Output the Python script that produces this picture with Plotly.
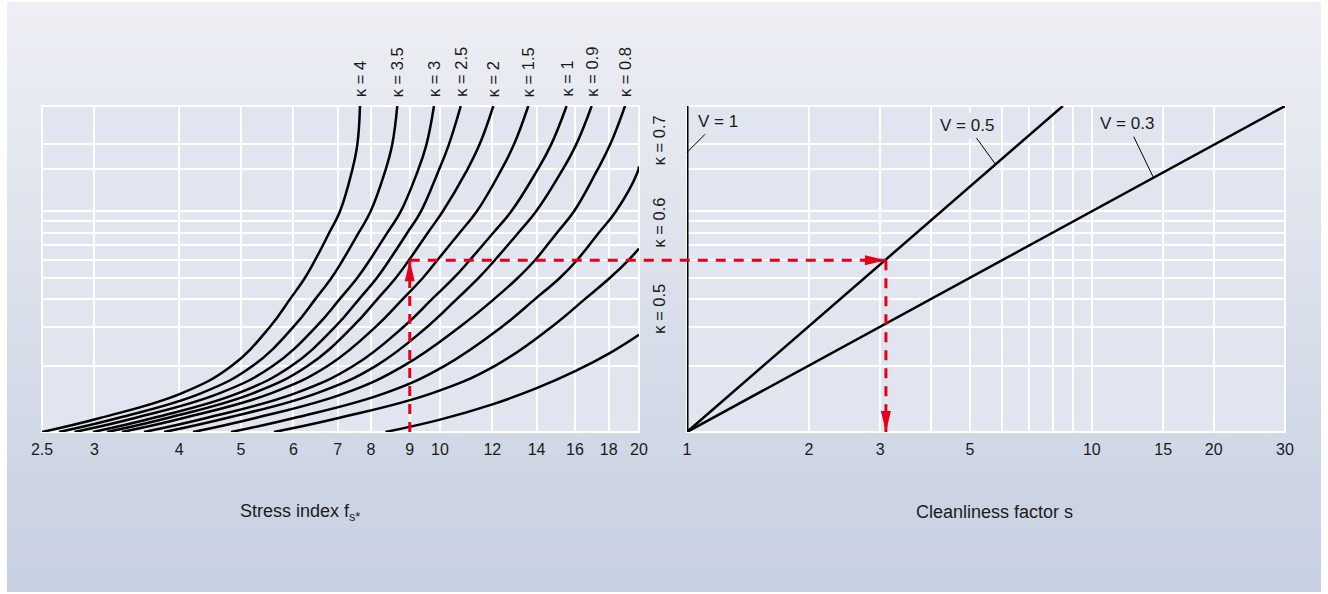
import numpy as np
import plotly.graph_objects as go

# ---------------- data ----------------
y_levels = [1, 1.157, 1.5, 2, 3, 4, 5, 6, 8, 10, 15, 20, 30]

k4_fs = [2.5, 3.060, 4.071, 4.847, 5.532, 5.931, 6.249, 6.470, 6.800, 7.059, 7.350, 7.497, 7.568]
k35_fs = [2.653, 3.257, 4.356, 5.216, 6.005, 6.477, 6.855, 7.125, 7.534, 7.855, 8.250, 8.465, 8.617]
k3_fs = [2.80, 3.454, 4.645, 5.597, 6.497, 7.051, 7.499, 7.825, 8.325, 8.723, 9.236, 9.536, 9.792]
k25_fs = [2.986, 3.679, 4.953, 5.972, 6.944, 7.544, 8.029, 8.380, 8.926, 9.359, 9.926, 10.31, 10.75]
k2_fs = [3.135, 3.870, 5.222, 6.319, 7.377, 8.040, 8.578, 8.972, 9.586, 10.10, 10.94, 11.47, 12.04]
k15_fs = [3.303, 4.093, 5.562, 6.778, 7.998, 8.781, 9.424, 9.905, 10.71, 11.37, 12.32, 12.93, 13.60]
k1_fs = [3.566, 4.430, 6.049, 7.411, 8.811, 9.724, 10.50, 11.09, 12.04, 12.82, 13.97, 14.72, 15.54]
k09_fs = [3.824, 4.757, 6.517, 8.012, 9.570, 10.60, 11.45, 12.10, 13.14, 13.98, 15.24, 16.06, 16.96]
k08_fs = [4.230, 5.257, 7.185, 8.821, 10.72, 12.07, 13.12, 13.92, 15.03, 15.95, 17.22, 18.08, 19.05]

k07_fs = [4.829, 6.013, 8.256, 10.18, 12.41, 13.92, 15.19, 16.11, 17.39, 18.46, 19.89, 20.0]
k07_y = [1, 1.157, 1.5, 2, 3, 4, 5, 6, 8, 10, 15, 16.0]
k06_fs = [5.608, 7.024, 9.737, 12.13, 14.76, 16.56, 18.08, 19.27, 20.0]
k06_y = [1, 1.157, 1.5, 2, 3, 4, 5, 6, 6.78]
k05_fs = [8.270, 10.0, 11.97, 13.97, 16.04, 18.03, 20.0]
k05_y = [1, 1.138, 1.331, 1.575, 1.891, 2.272, 2.760]

top_kappa_labels = ["κ = 4", "κ = 3.5", "κ = 3", "κ = 2.5", "κ = 2", "κ = 1.5", "κ = 1", "κ = 0.9", "κ = 0.8"]
side_kappa_labels = ["κ = 0.7", "κ = 0.6", "κ = 0.5"]

# contamination factor lines (cleanliness factor s vs. intermediate value)
v_labels = ["V = 1", "V = 0.5", "V = 0.3"]
v1_s, v1_y = [1, 1], [1, 30]
v05_s, v05_y = [1, 8.48], [1, 30]
v03_s, v03_y = [1, 30], [1, 30]
v_label_points_s = [1.0, 5.8, 14.2]
v_label_points_y = [18.5, 16.2, 14.2]

# worked example
ex_fs, ex_y, ex_s = 9, 6, 3.1

left_tickvals = [2.5, 3, 4.03, 5, 6, 7, 7.86, 9, 10, 12, 14, 16, 18, 20]
left_ticktext = ["2.5", "3", "4", "5", "6", "7", "8", "9", "10", "12", "14", "16", "18", "20"]
right_tickvals = [1, 2, 3, 4, 5, 6, 7, 8, 9, 10, 15, 20, 30]
right_ticktext = ["1", "2", "3", " ", "5", " ", " ", " ", " ", "10", "15", "20", "30"]
y_gridvals = [2, 3, 4, 5, 6, 7, 8, 9, 10, 15.6, 20.2]

# ---------------- layout geometry / style ----------------
W, H = 1328, 594
ML, MR, MT, MB = 42, 43, 106, 162
PW, PH = W - ML - MR, H - MT - MB
LEFT_DOM = [0, (639 - ML) / PW]
RIGHT_DOM = [(687 - ML) / PW, 1]
XL_RANGE = [np.log10(2.5), np.log10(20)]
XR_RANGE = [0, np.log10(30)]
Y_RANGE = [0, np.log10(30)]
PLOT_BG = "#e1e5ef"
RED = "#e2001a"
TXT = "#1b1b1b"
FONT = "Liberation Sans, Arial, sans-serif"


def pxx(px):
    return (px - ML) / PW


def pxy(py):
    return (H - MB - py) / PH


def paper_of(v, rng, dom):
    return dom[0] + (np.log10(v) - rng[0]) / (rng[1] - rng[0]) * (dom[1] - dom[0])


fig = go.Figure()

curves = [
    (k4_fs, y_levels), (k35_fs, y_levels), (k3_fs, y_levels), (k25_fs, y_levels),
    (k2_fs, y_levels), (k15_fs, y_levels), (k1_fs, y_levels), (k09_fs, y_levels),
    (k08_fs, y_levels), (k07_fs, k07_y), (k06_fs, k06_y), (k05_fs, k05_y),
]
for xs, ys in curves:
    fig.add_trace(go.Scatter(x=xs, y=ys, mode="lines", xaxis="x", yaxis="y",
                             line=dict(color="black", width=2.5, shape="spline", smoothing=1.2),
                             hoverinfo="skip", showlegend=False))

for xs, ys, w in [(v1_s, v1_y, 3), (v05_s, v05_y, 2.5), (v03_s, v03_y, 2.5)]:
    fig.add_trace(go.Scatter(x=xs, y=ys, mode="lines", xaxis="x2", yaxis="y",
                             line=dict(color="black", width=w),
                             hoverinfo="skip", showlegend=False))

DASH = "10px,8px"
fig.add_trace(go.Scatter(x=[ex_fs, ex_fs], y=[1, ex_y], mode="lines", xaxis="x", yaxis="y",
                         line=dict(color=RED, width=3, dash=DASH), hoverinfo="skip", showlegend=False))
fig.add_trace(go.Scatter(x=[ex_s, ex_s], y=[ex_y, 1], mode="lines", xaxis="x2", yaxis="y",
                         line=dict(color=RED, width=3, dash=DASH), hoverinfo="skip", showlegend=False))

shapes = []
# background gradient
n = 60
top_rgb, bot_rgb = (237, 239, 244), (199, 208, 225)
y_top, y_bot = 2, 592
for i in range(n):
    t = i / (n - 1)
    c = tuple(int(round(a + (b - a) * t)) for a, b in zip(top_rgb, bot_rgb))
    y0 = y_top + i * (y_bot - y_top) / n
    y1 = y0 + (y_bot - y_top) / n + 0.6
    shapes.append(dict(type="rect", xref="paper", yref="paper", layer="below",
                       x0=pxx(7), x1=pxx(1321), y0=pxy(min(y1, y_bot)), y1=pxy(y0),
                       fillcolor="rgb(%d,%d,%d)" % c, line=dict(width=0)))
for dom in (LEFT_DOM, RIGHT_DOM):
    shapes.append(dict(type="rect", xref="paper", yref="paper", layer="below",
                       x0=dom[0], x1=dom[1], y0=0, y1=1, fillcolor=PLOT_BG,
                       line=dict(color="white", width=2)))

# example horizontal dashed line across both panels
shapes.append(dict(type="line", xref="paper", yref="y",
                   x0=paper_of(ex_fs, XL_RANGE, LEFT_DOM), x1=paper_of(ex_s, XR_RANGE, RIGHT_DOM),
                   y0=ex_y, y1=ex_y, line=dict(color=RED, width=3, dash=DASH)))
# arrowheads
for xref, xa, ya, path in [
    ("x", ex_fs, ex_y, "M0,0 L-5,-21 L5,-21 Z"),
    ("x2", ex_s, ex_y, "M0,0 L-21,5 L-21,-5 Z"),
    ("x2", ex_s, 1, "M0,0 L-5,21 L5,21 Z"),
]:
    shapes.append(dict(type="path", xref=xref, yref="y", xsizemode="pixel", ysizemode="pixel",
                       xanchor=xa, yanchor=ya, path=path, fillcolor=RED, line=dict(width=0)))

annotations = []
top_curves = [k4_fs, k35_fs, k3_fs, k25_fs, k2_fs, k15_fs, k1_fs, k09_fs, k08_fs]
for lab, xs in zip(top_kappa_labels, top_curves):
    annotations.append(dict(x=np.log10(xs[-1]), xref="x", y=pxy(99), yref="paper",
                            text=lab, textangle=-90, showarrow=False,
                            xanchor="center", yanchor="bottom",
                            font=dict(size=16.5, color=TXT, family=FONT)))
for lab, ys in zip(side_kappa_labels, [k07_y, k06_y, k05_y]):
    annotations.append(dict(x=pxx(659), xref="paper", y=np.log10(ys[-1]), yref="y",
                            text=lab, textangle=-90, showarrow=False, yshift=-1,
                            xanchor="center", yanchor="bottom",
                            font=dict(size=16.5, color=TXT, family=FONT)))
for lab, sx, sy, ax, ay in zip(v_labels, v_label_points_s, v_label_points_y,
                               [31, -29, -26], [-31, -40, -54]):
    annotations.append(dict(x=np.log10(sx), xref="x2", y=np.log10(sy), yref="y",
                            text=lab, showarrow=True, arrowhead=0, arrowwidth=1,
                            arrowcolor="black", ax=ax, ay=ay, standoff=0,
                            bgcolor=PLOT_BG, borderpad=3,
                            font=dict(size=17, color=TXT, family=FONT)))
annotations.append(dict(x=pxx(300), y=pxy(512), xref="paper", yref="paper",
                        xanchor="center", yanchor="middle",
                        text="Stress index f<sub>s*</sub>", showarrow=False,
                        font=dict(size=18, color=TXT, family=FONT)))
annotations.append(dict(x=pxx(994), y=pxy(512), xref="paper", yref="paper",
                        xanchor="center", yanchor="middle",
                        text="Cleanliness factor s", showarrow=False,
                        font=dict(size=18, color=TXT, family=FONT)))

axis_common = dict(showgrid=True, gridcolor="white", gridwidth=2, zeroline=False,
                   showline=False, ticks="", ticklabelstandoff=6,
                   tickfont=dict(size=16, color=TXT, family=FONT))

fig.update_layout(
    width=W, height=H,
    margin=dict(l=ML, r=MR, t=MT, b=MB, pad=0),
    paper_bgcolor="white", plot_bgcolor=PLOT_BG,
    showlegend=False,
    xaxis=dict(type="log", domain=LEFT_DOM, range=XL_RANGE, anchor="y",
               tickmode="array", tickvals=left_tickvals, ticktext=left_ticktext, **axis_common),
    xaxis2=dict(type="log", domain=RIGHT_DOM, range=XR_RANGE, anchor="y",
                tickmode="array", tickvals=right_tickvals, ticktext=right_ticktext, **axis_common),
    yaxis=dict(type="log", domain=[0, 1], range=Y_RANGE, anchor="x",
               tickmode="array", tickvals=y_gridvals, showticklabels=False,
               showgrid=True, gridcolor="white", gridwidth=2, zeroline=False, ticks=""),
    shapes=shapes,
    annotations=annotations,
)

fig.write_html("out.html", config={"displayModeBar": False},
               post_script="document.body.style.margin='0px';")
